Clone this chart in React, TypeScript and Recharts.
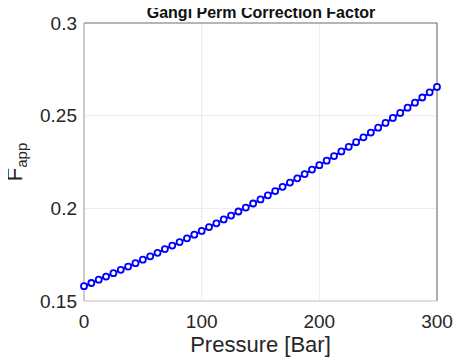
import React from 'react';
import {
	LineChart,
	Line,
	XAxis,
	YAxis,
	CartesianGrid,
	ReferenceLine,
	Label,
} from 'recharts';

// pressure steps in bar
const pressure = [
	0, 6.25, 12.5, 18.75, 25, 31.25, 37.5, 43.75, 50, 56.25, 62.5, 68.75, 75,
	81.25, 87.5, 93.75, 100, 106.25, 112.5, 118.75, 125, 131.25, 137.5, 143.75,
	150, 156.25, 162.5, 168.75, 175, 181.25, 187.5, 193.75, 200, 206.25, 212.5,
	218.75, 225, 231.25, 237.5, 243.75, 250, 256.25, 262.5, 268.75, 275, 281.25,
	287.5, 293.75, 300,
];

// apparent correction factor
const fApp = [
	0.158, 0.1597, 0.1615, 0.1632, 0.165, 0.1668, 0.1686, 0.1704, 0.1723,
	0.1741, 0.176, 0.178, 0.1799, 0.1818, 0.1838, 0.1858, 0.1878, 0.1899, 0.1919,
	0.194, 0.1961, 0.1983, 0.2004, 0.2026, 0.2048, 0.207, 0.2093, 0.2116, 0.2139,
	0.2162, 0.2185, 0.2209, 0.2233, 0.2257, 0.2282, 0.2307, 0.2332, 0.2357,
	0.2383, 0.2409, 0.2435, 0.2461, 0.2488, 0.2515, 0.2543, 0.257, 0.2598, 0.2626,
	0.2655,
];

const xTicks = [0, 100, 200, 300];
const yTicks = [0.15, 0.2, 0.25, 0.3];

const data = pressure.map((p, i) => ({ p, f: fApp[i] }));

const font = '"Liberation Sans", Arial, Helvetica, sans-serif';
const tickStyle = { fontSize: 19, fill: '#262626', fontFamily: font };

const YLabel = (props: any) => {
	const vb = props.viewBox || {};
	const x = 22;
	const cy = (vb.y || 0) + (vb.height || 0) / 2;
	return (
		<text
			x={x}
			y={cy}
			transform={`rotate(-90, ${x}, ${cy})`}
			textAnchor="middle"
			fontSize={22}
			fontFamily={font}
			fill="#262626"
		>
			F
			<tspan fontSize={15} dy={5}>
				app
			</tspan>
		</text>
	);
};

const App = () => {
	// pull the chart over the body margin so it fills the window
	return (
		<div
			style={{
				position: 'relative',
				width: 465,
				height: 358,
				margin: '-8px 0 0 -8px',
			}}
		>
			<LineChart
				width={465}
				height={358}
				data={data}
				margin={{ top: 23, right: 28, left: 0, bottom: 0 }}
			>
				<CartesianGrid stroke="#ebebeb" strokeWidth={1} />
				<XAxis
					dataKey="p"
					type="number"
					domain={[0, 300]}
					ticks={xTicks}
					height={57}
					tickLine={false}
					tickMargin={8}
					stroke="#c8c8c8"
					tick={tickStyle}
				>
					<Label
						value="Pressure [Bar]"
						position="insideBottom"
						offset={6}
						style={{ fontSize: 22, fill: '#262626', fontFamily: font }}
					/>
				</XAxis>
				<YAxis
					type="number"
					domain={[0.15, 0.3]}
					ticks={yTicks}
					width={84}
					tickLine={false}
					tickMargin={1}
					stroke="#a0a0a0"
					tick={tickStyle}
					label={<YLabel />}
				/>
				<ReferenceLine y={0.3} stroke="#777777" />
				<ReferenceLine x={300} stroke="#666666" />
				<Line
					type="linear"
					dataKey="f"
					stroke="#0000ff"
					strokeWidth={2}
					dot={{ r: 3, stroke: '#0000ff', strokeWidth: 1.8, fill: '#ffffff' }}
					isAnimationActive={false}
				/>
			</LineChart>
			<div
				style={{
					position: 'absolute',
					zIndex: 2,
					top: 4,
					left: 261,
					transform: 'translateX(-50%)',
					whiteSpace: 'nowrap',
					fontFamily: font,
					fontSize: 16,
					lineHeight: '18px',
					fontWeight: 'bold',
					color: '#111',
				}}
			>
				Gangi Perm Correction Factor
			</div>
		</div>
	);
};

export default App;
